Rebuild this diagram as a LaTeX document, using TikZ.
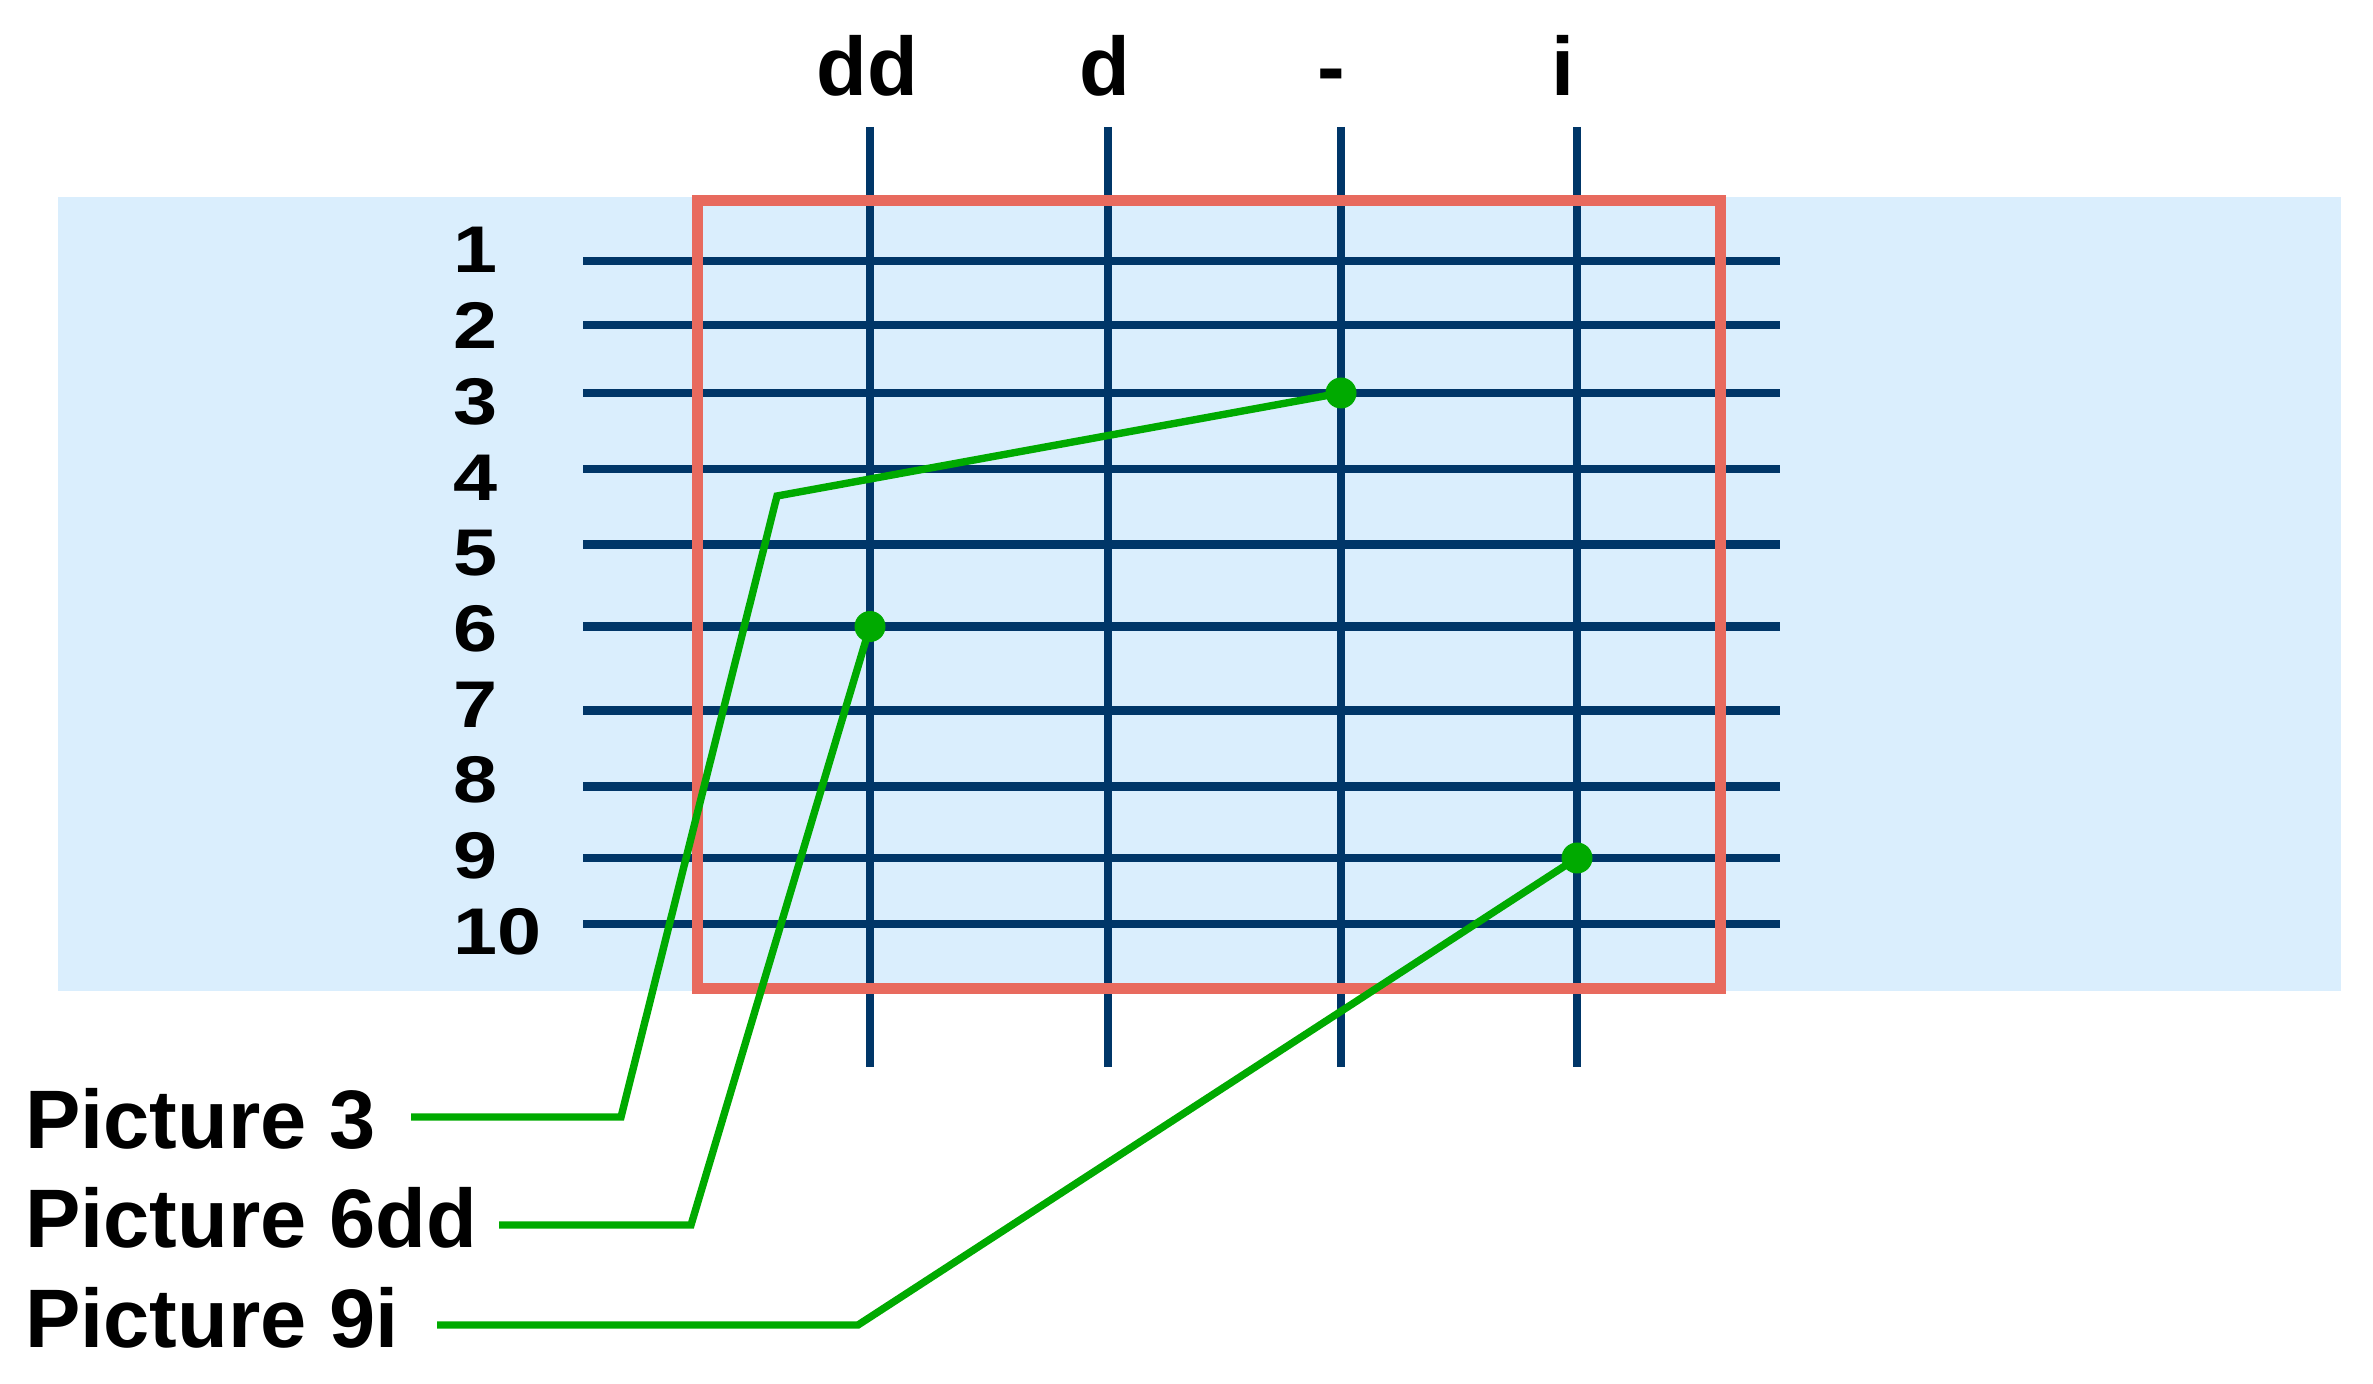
\documentclass[tikz,border=0pt]{standalone}
\usepackage{fontspec}
\setmainfont{Liberation Sans}
\newfontfamily\widesans[FakeStretch=1.2]{Liberation Sans}
\definecolor{bgblue}{RGB}{218,238,253}
\definecolor{navy}{RGB}{0,54,104}
\definecolor{redbox}{RGB}{232,106,94}
\definecolor{grn}{RGB}{0,170,0}
\begin{document}
\begin{tikzpicture}[x=0.5pt,y=-0.5pt,
  gridline/.style={navy,line width=4.2pt},
  redframe/.style={redbox,line width=5.5pt},
  conn/.style={grn,line width=3.7pt},
  dot/.style={circle,fill=grn,inner sep=0pt,minimum size=15.5pt},
  rowlab/.style={anchor=base west,inner sep=0pt,font=\widesans\bfseries\fontsize{33}{38}\selectfont},
  collab/.style={anchor=base,inner sep=0pt,font=\bfseries\fontsize{41.5}{48}\selectfont},
  piclab/.style={anchor=base west,inner sep=0pt,font=\bfseries\fontsize{41.5}{48}\selectfont}]
\useasboundingbox (0,0) rectangle (2373,1384);
\fill[bgblue] (58,197) rectangle (2341,991);
\foreach \y in {261,325,393,469,544.5,626.5,710.5,786.5,858,924}
  \draw[gridline] (583,\y) -- (1780,\y);
\foreach \x in {870,1108,1341,1577}
  \draw[gridline] (\x,127) -- (\x,1067);
\draw[redframe] (697,201) rectangle (1720,988);
% row labels
\foreach \k in {1,...,10}
  \node[rowlab] (r\k) at (453,{273+75.7*(\k-1)}) {\k};
% column labels
\node[collab] (cdd) at (867,96) {dd};
\node[collab] (cd) at (1105,96) {d};
\node[collab] (cm) at (1331,96) {-};
\node[collab] (ci) at (1563,96) {i};
% picture labels
\node[piclab] (L3) at (25,1148) {Picture 3};
\node[piclab] (L6) at (25,1247) {Picture 6dd};
\node[piclab] (L9) at (25,1347) {Picture 9i};
% dots
\node[dot] (p3) at (1341,393) {};
\node[dot] (p6) at (870,626.5) {};
\node[dot] (p9) at (1577,858) {};
% connectors
\coordinate (a3) at (411,1117);
\coordinate (b3) at (621,1117);
\coordinate (c3) at (777,496);
\coordinate (a6) at (499,1225);
\coordinate (b6) at (691,1225);
\coordinate (a9) at (437,1325);
\coordinate (b9) at (858,1325);
\draw[conn] (a3) -- (b3) -- (c3) -- (p3.center);
\draw[conn] (a6) -- (b6) -- (p6.center);
\draw[conn] (a9) -- (b9) -- (p9.center);
\end{tikzpicture}
\end{document}
